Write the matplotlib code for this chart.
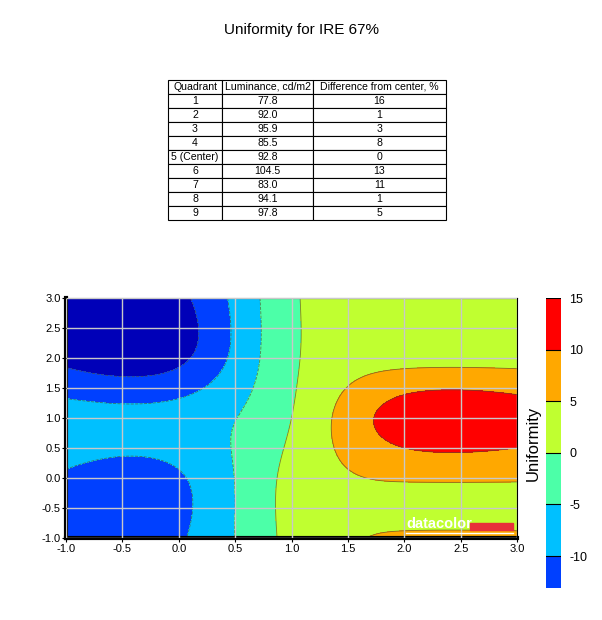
import matplotlib
matplotlib.use("Agg")
import matplotlib.pyplot as plt
import numpy as np

plt.rcParams["font.family"] = ["Liberation Sans", "DejaVu Sans"]
plt.rcParams["axes.unicode_minus"] = False

quadrants = ["1", "2", "3", "4", "5 (Center)", "6", "7", "8", "9"]
luminance = [77.8, 92.0, 95.9, 85.5, 92.8, 104.5, 83.0, 94.1, 97.8]
diff_pct = [16, 1, 3, 8, 0, 13, 11, 1, 5]
col_labels = ["Quadrant", "Luminance, cd/m2", "Difference from center, %"]

levels = [-25, -15, -10, -5, 0, 5, 10, 20]
colors = ["#0000B8", "#0040FF", "#00C0FF", "#4CFFA8", "#C0FF30", "#FFA800", "#FF0000"]
cbar_ticks = [-10, -5, 0, 5, 10, 15]

# signed deviation from centre, 3x3 grid; rows top -> bottom
lum = np.array(luminance).reshape(3, 3)
signed = (lum - luminance[4]) / luminance[4] * 100
signed = signed[::-1]   # row 0 -> y = 0

# quadrant centres at 0, 1, 2 ; grid padded to the plot edges -1 and 3
nodes = np.array([-1.0, 0.0, 1.0, 2.0, 3.0])
pad = np.array([[1, 0, 0], [1, 0, 0], [0, 1, 0], [0, 0, 1], [0, 0, 1]], float)


def spline_weights(p, nodes):
    # natural cubic spline through the nodes, as a linear map of node values
    n = len(nodes)
    A = np.diag(np.full(n - 2, 4.0)) + np.diag(np.ones(n - 3), 1) + np.diag(np.ones(n - 3), -1)
    B = np.zeros((n - 2, n))
    for r in range(n - 2):
        B[r, r:r + 3] = [6, -12, 6]
    M = np.zeros((n, n))
    M[1:-1] = np.linalg.solve(A, B)
    i = np.clip(np.floor(p - nodes[0]).astype(int), 0, n - 2)
    t = p - nodes[i]
    W = np.zeros((len(p), n))
    rows = np.arange(len(p))
    W[rows, i] += 1 - t
    W[rows, i + 1] += t
    W += (((1 - t) ** 3 - (1 - t)) / 6)[:, None] * M[i]
    W += ((t ** 3 - t) / 6)[:, None] * M[i + 1]
    return W


xs = np.linspace(-1, 3, 400)
ys = np.linspace(-1, 3, 400)
Wx = spline_weights(xs, nodes) @ pad
Wy = spline_weights(ys, nodes) @ pad
Z = Wy @ signed @ Wx.T
X, Y = np.meshgrid(xs, ys)

fig = plt.figure(figsize=(6.02, 6.2), dpi=100)
fig.text(0.5, 0.952, "Uniformity for IRE 67%", ha="center", va="center", fontsize=11)

# table
tax = fig.add_axes([168 / 602, 1 - 220 / 620, 278 / 602, 140 / 620])
tax.axis("off")
cells = [[q, f"{l:.1f}", str(d)] for q, l, d in zip(quadrants, luminance, diff_pct)]
tbl = tax.table(cellText=cells, colLabels=col_labels, cellLoc="center",
                colWidths=[54, 91, 133], bbox=[0, 0, 1, 1])
tbl.auto_set_font_size(False)
tbl.set_fontsize(7.6)
for cell in tbl.get_celld().values():
    cell.set_linewidth(0.8)
    cell.PAD = 0.02

# contour plot
ax = fig.add_axes([66 / 602, 82 / 620, 451 / 602, 240 / 620])
cf = ax.contourf(X, Y, Z, levels=levels, colors=colors)
ax.contour(X, Y, Z, levels=levels, colors="#505030", linewidths=0.6, alpha=0.7)
ticks = np.arange(-1, 3.01, 0.5)
ax.set_xlim(-1, 3)
ax.set_ylim(-1, 3)
ax.set_xticks(ticks)
ax.set_yticks(ticks)
ax.set_xticklabels([f"{v:.1f}" for v in ticks])
ax.set_yticklabels([f"{v:.1f}" for v in ticks])
ax.grid(True, color="#C8C8C8", linewidth=1)
ax.set_axisbelow(False)
ax.tick_params(labelsize=8, length=3, width=0.8, pad=1)
for side in ["left", "bottom"]:
    ax.spines[side].set_linewidth(3)
for side in ["top", "right"]:
    ax.spines[side].set_linewidth(0.8)

# datacolor logo
ax.text(0.754, 0.028, "datacolor", transform=ax.transAxes, color="white",
        fontsize=10.5, fontweight="bold", ha="left", va="bottom", zorder=6)
ax.add_patch(plt.Rectangle((0.896, 0.033), 0.095, 0.03, transform=ax.transAxes,
                           color="#E8303A", zorder=5))
ax.plot([0.754, 0.991], [0.021, 0.021], transform=ax.transAxes, color="white",
        linewidth=1, zorder=6)

# colorbar
cax = fig.add_axes([546 / 602, 32 / 620, 15 / 602, 290 / 620])
cbar = fig.colorbar(cf, cax=cax, spacing="proportional")
cbar.ax.set_ylim(-13.1, 15)
cbar.set_ticks(cbar_ticks)
cbar.ax.tick_params(labelsize=9, length=0, pad=6)
cbar.outline.set_visible(False)
cbar.ax.yaxis.set_label_position("left")
cbar.set_label("Uniformity", fontsize=12, labelpad=4)
for lv in cbar_ticks:
    cax.axhline(lv, color="black", linewidth=0.8)

fig.savefig("out.png", dpi=100)
